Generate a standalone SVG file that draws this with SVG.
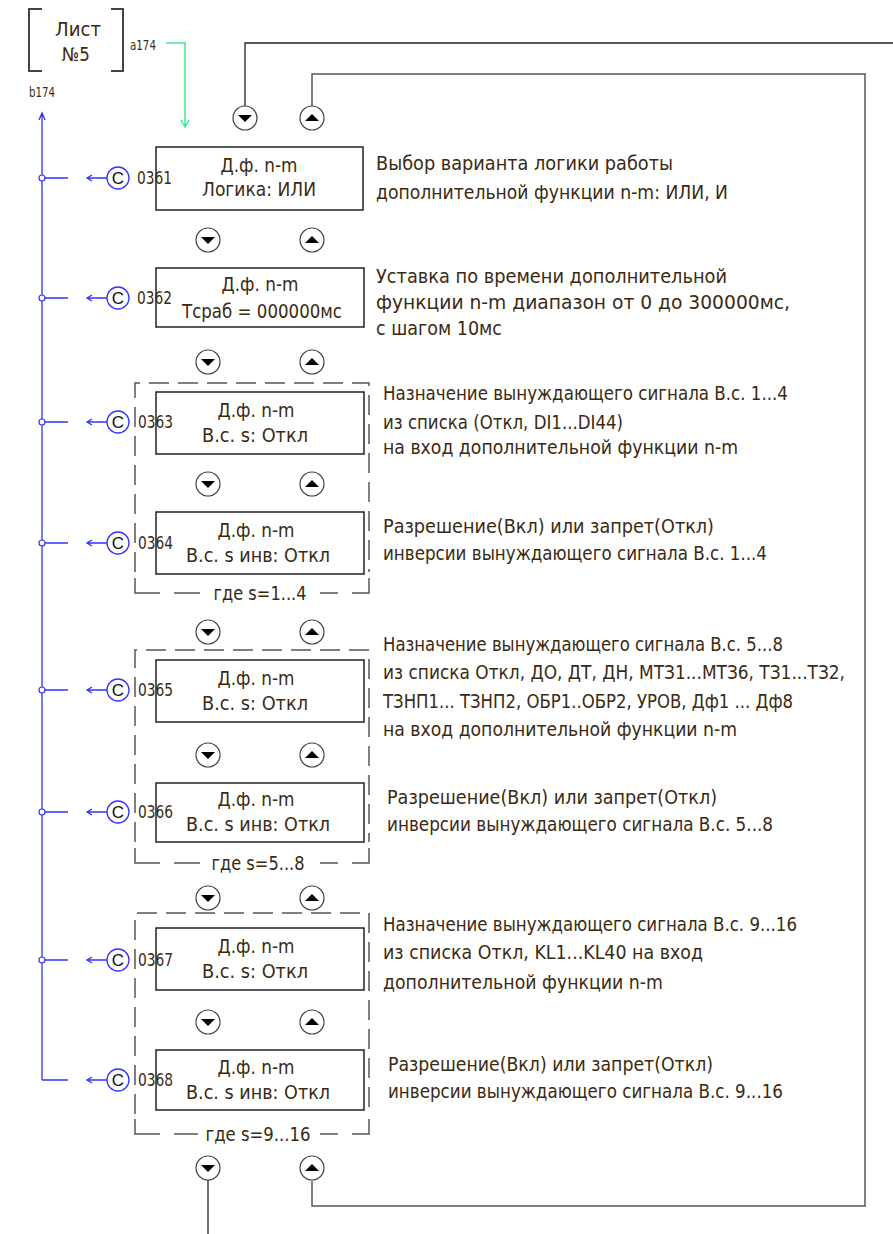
<svg xmlns="http://www.w3.org/2000/svg" width="893" height="1234" viewBox="0 0 893 1234">
<style>
text{font-family:"DejaVu Sans Condensed","DejaVu Sans","Liberation Sans",sans-serif;font-stretch:condensed;fill:#3b2a12}
.bt{font-size:19px;text-anchor:middle}
.ds{font-size:19px}
.num{font-size:18px}
.sm{font-size:14px}
.box{fill:none;stroke:#222;stroke-width:1.5}
.dash{fill:none;stroke:#555;stroke-width:1.5;stroke-dasharray:20 9}
.dsolid{fill:none;stroke:#555;stroke-width:1.5}
.btn{fill:#fff;stroke:#444;stroke-width:1.2}
.tri{fill:#000}
.bl{fill:none;stroke:#3333ff;stroke-width:1.3}
.cc{fill:#fff;stroke:#3333ff;stroke-width:1.3}
.ct{font-family:"Liberation Sans",sans-serif;font-size:17px;fill:#111;text-anchor:middle}
.wire{fill:none;stroke:#222;stroke-width:1.3}
.gwire{fill:none;stroke:#40e890;stroke-width:1.5}
</style>
<defs>
<g id="down"><circle r="12" class="btn"/><path class="tri" d="M-7,-3 L7,-3 L0,4 Z"/></g>
<g id="up"><circle r="12" class="btn"/><path class="tri" d="M-7,3 L7,3 L0,-4 Z"/></g>
<g id="cin"><path class="bl" d="M-31,0 H-11 M-26,-3 L-31,0 L-26,3"/><circle r="11" class="cc"/><text class="ct" y="6">C</text></g>
</defs>

<g id="sheet">
<path d="M42,9 H29 V71 H42 M111,9 H123 V71 H111" fill="none" stroke="#444" stroke-width="2"/>
<text x="78" y="36" font-size="19" text-anchor="middle" textLength="46" lengthAdjust="spacingAndGlyphs">Лист</text>
<text x="76" y="61" font-size="19" text-anchor="middle" textLength="28" lengthAdjust="spacingAndGlyphs">№5</text>
<text class="sm" x="130" y="50" textLength="26" lengthAdjust="spacingAndGlyphs">a174</text>
<text class="sm" x="29" y="97" textLength="26" lengthAdjust="spacingAndGlyphs">b174</text>
</g>

<g id="connectors">
<path class="gwire" d="M166,43 H185 V127 M181,120 L185,127 L189,120"/>
<path class="bl" d="M42,1080 V113 M39,120 L42,113 L45,120"/>
<path class="bl" d="M42,178 H68 M42,298 H68 M42,422 H68 M42,543 H68 M42,690 H68 M42,812 H68 M42,960 H68 M42,1080 H68"/>
<g fill="#fff" stroke="#3333ff" stroke-width="1.2">
<circle cx="42" cy="178" r="3"/><circle cx="42" cy="298" r="3"/><circle cx="42" cy="422" r="3"/><circle cx="42" cy="543" r="3"/><circle cx="42" cy="690" r="3"/><circle cx="42" cy="812" r="3"/><circle cx="42" cy="960" r="3"/>
</g>
<path class="wire" d="M245,106 V43 H893"/>
<path d="M312,106 V74 H865 V1206 H312 V1181" fill="none" stroke="#555" stroke-width="1.5"/>
<path class="wire" d="M208,1178 V1234"/>
</g>

<g id="buttons">
<use href="#down" x="245" y="118"/><use href="#up" x="312" y="118"/>
<use href="#down" x="208" y="240"/><use href="#up" x="312" y="240"/>
<use href="#down" x="208" y="362"/><use href="#up" x="312" y="362"/>
<use href="#down" x="208" y="484"/><use href="#up" x="312" y="484"/>
<use href="#down" x="208" y="632"/><use href="#up" x="312" y="632"/>
<use href="#down" x="208" y="755"/><use href="#up" x="312" y="755"/>
<use href="#down" x="208" y="898"/><use href="#up" x="312" y="898"/>
<use href="#down" x="208" y="1022"/><use href="#up" x="312" y="1022"/>
<use href="#down" x="208" y="1168"/><use href="#up" x="312" y="1168"/>
</g>

<g id="group1">
<path class="dash" d="M135,572 V383 H369 V572"/>
<path class="dsolid" d="M135,578 V593 H160 M174,593 H200 M320,593 H338 M352,593 H369 V578"/>
<text class="bt" x="260" y="600" textLength="93" lengthAdjust="spacingAndGlyphs">где s=1...4</text>
</g>
<g id="group2">
<path class="dash" d="M135,842 V650 H369 V842"/>
<path class="dsolid" d="M135,848 V863 H160 M174,863 H200 M320,863 H338 M352,863 H369 V848"/>
<text class="bt" x="258" y="870" textLength="93" lengthAdjust="spacingAndGlyphs">где s=5...8</text>
</g>
<g id="group3">
<path class="dash" d="M135,1114 V913 H369 V1114"/>
<path class="dsolid" d="M135,1119 V1134 H160 M174,1134 H198 M320,1134 H338 M352,1134 H369 V1119"/>
<text class="bt" x="258" y="1141" textLength="105" lengthAdjust="spacingAndGlyphs">где s=9...16</text>
</g>

<g id="n0361">
<use href="#cin" x="118" y="178"/>
<rect class="box" x="156" y="147" width="207" height="63"/>
<text class="num" x="137" y="184" textLength="35" lengthAdjust="spacingAndGlyphs">0361</text>
<text class="bt" x="259" y="172" textLength="77" lengthAdjust="spacingAndGlyphs">Д.ф. n-m</text>
<text class="bt" x="259" y="196" textLength="114" lengthAdjust="spacingAndGlyphs">Логика: ИЛИ</text>
<text class="ds" x="376" y="170" textLength="297" lengthAdjust="spacingAndGlyphs">Выбор варианта логики работы</text>
<text class="ds" x="376" y="199" textLength="352" lengthAdjust="spacingAndGlyphs">дополнительной функции n-m: ИЛИ, И</text>
</g>

<g id="n0362">
<use href="#cin" x="118" y="298"/>
<rect class="box" x="156" y="268" width="208" height="59"/>
<text class="num" x="137" y="304" textLength="35" lengthAdjust="spacingAndGlyphs">0362</text>
<text class="bt" x="260" y="291" textLength="77" lengthAdjust="spacingAndGlyphs">Д.ф. n-m</text>
<text class="bt" x="262" y="318" textLength="160" lengthAdjust="spacingAndGlyphs">Tсраб = 000000мс</text>
<text class="ds" x="376" y="283" textLength="351" lengthAdjust="spacingAndGlyphs">Уставка по времени дополнительной</text>
<text class="ds" x="376" y="309" textLength="414" lengthAdjust="spacingAndGlyphs">функции n-m диапазон от 0 до 300000мс,</text>
<text class="ds" x="376" y="335" textLength="126" lengthAdjust="spacingAndGlyphs">с шагом 10мс</text>
</g>

<g id="n0363">
<use href="#cin" x="118" y="422"/>
<rect class="box" x="156" y="392" width="208" height="62"/>
<text class="num" x="138" y="428" textLength="35" lengthAdjust="spacingAndGlyphs">0363</text>
<text class="bt" x="256" y="417" textLength="77" lengthAdjust="spacingAndGlyphs">Д.ф. n-m</text>
<text class="bt" x="255" y="442" textLength="106" lengthAdjust="spacingAndGlyphs">В.с. s: Откл</text>
<text class="ds" x="383" y="400" textLength="405" lengthAdjust="spacingAndGlyphs">Назначение вынуждающего сигнала В.с. 1...4</text>
<text class="ds" x="383" y="429" textLength="240" lengthAdjust="spacingAndGlyphs">из списка (Откл, DI1...DI44)</text>
<text class="ds" x="383" y="454" textLength="355" lengthAdjust="spacingAndGlyphs">на вход дополнительной функции n-m</text>
</g>

<g id="n0364">
<use href="#cin" x="118" y="543"/>
<rect class="box" x="156" y="512" width="208" height="62"/>
<text class="num" x="138" y="549" textLength="35" lengthAdjust="spacingAndGlyphs">0364</text>
<text class="bt" x="256" y="537" textLength="77" lengthAdjust="spacingAndGlyphs">Д.ф. n-m</text>
<text class="bt" x="258" y="562" textLength="144" lengthAdjust="spacingAndGlyphs">В.с. s инв: Откл</text>
<text class="ds" x="383" y="533" textLength="331" lengthAdjust="spacingAndGlyphs">Разрешение(Вкл) или запрет(Откл)</text>
<text class="ds" x="383" y="560" textLength="384" lengthAdjust="spacingAndGlyphs">инверсии вынуждающего сигнала В.с. 1...4</text>
</g>

<g id="n0365">
<use href="#cin" x="118" y="690"/>
<rect class="box" x="156" y="660" width="208" height="62"/>
<text class="num" x="138" y="696" textLength="35" lengthAdjust="spacingAndGlyphs">0365</text>
<text class="bt" x="256" y="685" textLength="77" lengthAdjust="spacingAndGlyphs">Д.ф. n-m</text>
<text class="bt" x="255" y="710" textLength="106" lengthAdjust="spacingAndGlyphs">В.с. s: Откл</text>
<text class="ds" x="383" y="651" textLength="400" lengthAdjust="spacingAndGlyphs">Назначение вынуждающего сигнала В.с. 5...8</text>
<text class="ds" x="383" y="679" textLength="462" lengthAdjust="spacingAndGlyphs">из списка Откл, ДО, ДТ, ДН, МТЗ1...МТЗ6, ТЗ1...ТЗ2,</text>
<text class="ds" x="383" y="708" textLength="410" lengthAdjust="spacingAndGlyphs">ТЗНП1... ТЗНП2, ОБР1..ОБР2, УРОВ, Дф1 ... Дф8</text>
<text class="ds" x="383" y="736" textLength="354" lengthAdjust="spacingAndGlyphs">на вход дополнительной функции n-m</text>
</g>

<g id="n0366">
<use href="#cin" x="118" y="812"/>
<rect class="box" x="156" y="783" width="208" height="59"/>
<text class="num" x="138" y="818" textLength="35" lengthAdjust="spacingAndGlyphs">0366</text>
<text class="bt" x="256" y="806" textLength="77" lengthAdjust="spacingAndGlyphs">Д.ф. n-m</text>
<text class="bt" x="258" y="831" textLength="144" lengthAdjust="spacingAndGlyphs">В.с. s инв: Откл</text>
<text class="ds" x="387" y="804" textLength="330" lengthAdjust="spacingAndGlyphs">Разрешение(Вкл) или запрет(Откл)</text>
<text class="ds" x="387" y="831" textLength="386" lengthAdjust="spacingAndGlyphs">инверсии вынуждающего сигнала В.с. 5...8</text>
</g>

<g id="n0367">
<use href="#cin" x="118" y="960"/>
<rect class="box" x="156" y="928" width="208" height="62"/>
<text class="num" x="138" y="966" textLength="35" lengthAdjust="spacingAndGlyphs">0367</text>
<text class="bt" x="256" y="953" textLength="77" lengthAdjust="spacingAndGlyphs">Д.ф. n-m</text>
<text class="bt" x="255" y="978" textLength="106" lengthAdjust="spacingAndGlyphs">В.с. s: Откл</text>
<text class="ds" x="383" y="931" textLength="414" lengthAdjust="spacingAndGlyphs">Назначение вынуждающего сигнала В.с. 9...16</text>
<text class="ds" x="383" y="959" textLength="320" lengthAdjust="spacingAndGlyphs">из списка Откл, KL1...KL40 на вход</text>
<text class="ds" x="383" y="989" textLength="280" lengthAdjust="spacingAndGlyphs">дополнительной функции n-m</text>
</g>

<g id="n0368">
<use href="#cin" x="118" y="1080"/>
<rect class="box" x="156" y="1050" width="208" height="60"/>
<text class="num" x="138" y="1086" textLength="35" lengthAdjust="spacingAndGlyphs">0368</text>
<text class="bt" x="256" y="1074" textLength="77" lengthAdjust="spacingAndGlyphs">Д.ф. n-m</text>
<text class="bt" x="258" y="1099" textLength="144" lengthAdjust="spacingAndGlyphs">В.с. s инв: Откл</text>
<text class="ds" x="388" y="1071" textLength="325" lengthAdjust="spacingAndGlyphs">Разрешение(Вкл) или запрет(Откл)</text>
<text class="ds" x="388" y="1098" textLength="395" lengthAdjust="spacingAndGlyphs">инверсии вынуждающего сигнала В.с. 9...16</text>
</g>
</svg>
